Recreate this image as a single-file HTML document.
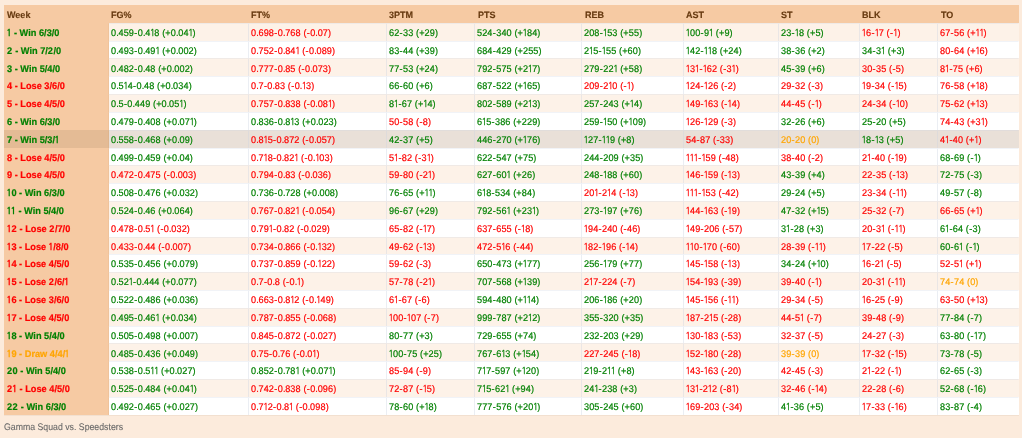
<!DOCTYPE html><html><head><meta charset="utf-8"><title>Gamma Squad vs. Speedsters</title><style>
*{box-sizing:border-box}
html,body{margin:0;padding:0}
body{width:1022px;height:438px;overflow:hidden;background:#fcebdc;font-family:"Liberation Sans",Arial,sans-serif;text-rendering:geometricPrecision;font-size:9.6px;position:relative}
table{will-change:transform;position:absolute;left:4px;top:5px;width:1015px;border-collapse:separate;border-spacing:0;table-layout:fixed}
th,td{height:17.818px;line-height:16.1px;text-align:left;white-space:nowrap;overflow:hidden;vertical-align:top}
th{padding:1.7px 0 0 2.5px;background:#f6caa3;color:#673a10;font-weight:bold;font-size:9.3px}
td{padding:0.7px 0 0 2.2px;border-top:1px solid rgba(205,212,225,0.28);border-right:1px solid rgba(205,212,225,0.38)}
td:last-child{border-right-color:transparent}
th>span,td>span{display:inline-block;position:relative;transform-origin:0 50%}
th>span{transform:scaleX(0.97);-webkit-text-stroke:0.15px currentColor}
td>span{top:1.4px;transform:scaleX(0.95);letter-spacing:0.12px;-webkit-text-stroke:0.2px currentColor}
td.w{padding-left:3px;font-weight:bold;font-size:9.6px;border-top-color:transparent;border-right:1px solid rgba(160,110,60,0.07)}
td.w>span{transform:scaleX(0.96);letter-spacing:0}
.n{margin-left:-0.7px;letter-spacing:-0.95px;font-family:NanumGothic,"Liberation Sans",sans-serif}
.w .n{margin-left:-0.9px;letter-spacing:-0.3px}
.w .t{letter-spacing:0.5px}
.d{letter-spacing:-0.25px}
.h{letter-spacing:0.37px;padding-left:0.25px}
tbody tr:nth-child(odd) td{background-color:#fdf2e8}
tbody tr:nth-child(even) td{background-color:#fff}
tbody tr td.w{background-color:#f6caa3}
tbody tr.hl td{background-color:#e9e0d8}
tbody tr.hl td.w{background-color:#e4bb95}
.g{color:#008000}.r{color:#ff0000}.o{color:#ffa500}
.bl{position:absolute;left:4px;top:414.8px;width:1015px;height:1px;background:rgba(160,130,110,0.1)}
.foot{will-change:transform;position:absolute;left:4px;top:421.8px;color:#686868;font-size:9.5px;line-height:12px;white-space:nowrap}
.foot>span{-webkit-text-stroke:0.1px currentColor;display:inline-block;transform-origin:0 50%;transform:scaleX(0.92)}
</style></head><body>
<table><colgroup><col style="width:104.6px"><col style="width:140.2px"><col style="width:138px"><col style="width:88.3px"><col style="width:107.1px"><col style="width:101.8px"><col style="width:95px"><col style="width:80.9px"><col style="width:78.2px"><col style="width:80.9px"></colgroup>
<thead><tr><th><span>Week</span></th><th><span>FG%</span></th><th><span>FT%</span></th><th><span>3PTM</span></th><th><span>PTS</span></th><th><span>REB</span></th><th><span>AST</span></th><th><span>ST</span></th><th><span>BLK</span></th><th><span>TO</span></th></tr></thead><tbody>
<tr><td class="w g"><span><span class="n">1</span> - Win 6/3/0</span></td><td class="g"><span>0<span class="d">.</span>459<span class="h">-</span>0<span class="d">.</span>4<span class="n">1</span>8 (+0<span class="d">.</span>04<span class="n">1</span>)</span></td><td class="r"><span>0<span class="d">.</span>698<span class="h">-</span>0<span class="d">.</span>768 (<span class="h">-</span>0<span class="d">.</span>07)</span></td><td class="g"><span>62<span class="h">-</span>33 (+29)</span></td><td class="g"><span>524<span class="h">-</span>340 (+<span class="n">1</span>84)</span></td><td class="g"><span>208<span class="h">-</span><span class="n">1</span>53 (+55)</span></td><td class="g"><span><span class="n">1</span>00<span class="h">-</span>9<span class="n">1</span> (+9)</span></td><td class="g"><span>23<span class="h">-</span><span class="n">1</span>8 (+5)</span></td><td class="r"><span><span class="n">1</span>6<span class="h">-</span><span class="n">1</span>7 (<span class="h">-</span><span class="n">1</span>)</span></td><td class="r"><span>67<span class="h">-</span>56 (+<span class="n">1</span><span class="n">1</span>)</span></td></tr>
<tr><td class="w g"><span><span class="t">2</span> - Win 7/<span class="t">2</span>/0</span></td><td class="g"><span>0<span class="d">.</span>493<span class="h">-</span>0<span class="d">.</span>49<span class="n">1</span> (+0<span class="d">.</span>002)</span></td><td class="r"><span>0<span class="d">.</span>752<span class="h">-</span>0<span class="d">.</span>84<span class="n">1</span> (<span class="h">-</span>0<span class="d">.</span>089)</span></td><td class="g"><span>83<span class="h">-</span>44 (+39)</span></td><td class="g"><span>684<span class="h">-</span>429 (+255)</span></td><td class="g"><span>2<span class="n">1</span>5<span class="h">-</span><span class="n">1</span>55 (+60)</span></td><td class="g"><span><span class="n">1</span>42<span class="h">-</span><span class="n">1</span><span class="n">1</span>8 (+24)</span></td><td class="g"><span>38<span class="h">-</span>36 (+2)</span></td><td class="g"><span>34<span class="h">-</span>3<span class="n">1</span> (+3)</span></td><td class="r"><span>80<span class="h">-</span>64 (+<span class="n">1</span>6)</span></td></tr>
<tr><td class="w g"><span>3 - Win 5/4/0</span></td><td class="g"><span>0<span class="d">.</span>482<span class="h">-</span>0<span class="d">.</span>48 (+0<span class="d">.</span>002)</span></td><td class="r"><span>0<span class="d">.</span>777<span class="h">-</span>0<span class="d">.</span>85 (<span class="h">-</span>0<span class="d">.</span>073)</span></td><td class="g"><span>77<span class="h">-</span>53 (+24)</span></td><td class="g"><span>792<span class="h">-</span>575 (+2<span class="n">1</span>7)</span></td><td class="g"><span>279<span class="h">-</span>22<span class="n">1</span> (+58)</span></td><td class="r"><span><span class="n">1</span>3<span class="n">1</span><span class="h">-</span><span class="n">1</span>62 (<span class="h">-</span>3<span class="n">1</span>)</span></td><td class="g"><span>45<span class="h">-</span>39 (+6)</span></td><td class="r"><span>30<span class="h">-</span>35 (<span class="h">-</span>5)</span></td><td class="r"><span>8<span class="n">1</span><span class="h">-</span>75 (+6)</span></td></tr>
<tr><td class="w r"><span>4 - Lose 3/6/0</span></td><td class="g"><span>0<span class="d">.</span>5<span class="n">1</span>4<span class="h">-</span>0<span class="d">.</span>48 (+0<span class="d">.</span>034)</span></td><td class="r"><span>0<span class="d">.</span>7<span class="h">-</span>0<span class="d">.</span>83 (<span class="h">-</span>0<span class="d">.</span><span class="n">1</span>3)</span></td><td class="g"><span>66<span class="h">-</span>60 (+6)</span></td><td class="g"><span>687<span class="h">-</span>522 (+<span class="n">1</span>65)</span></td><td class="r"><span>209<span class="h">-</span>2<span class="n">1</span>0 (<span class="h">-</span><span class="n">1</span>)</span></td><td class="r"><span><span class="n">1</span>24<span class="h">-</span><span class="n">1</span>26 (<span class="h">-</span>2)</span></td><td class="r"><span>29<span class="h">-</span>32 (<span class="h">-</span>3)</span></td><td class="r"><span><span class="n">1</span>9<span class="h">-</span>34 (<span class="h">-</span><span class="n">1</span>5)</span></td><td class="r"><span>76<span class="h">-</span>58 (+<span class="n">1</span>8)</span></td></tr>
<tr><td class="w r"><span>5 - Lose 4/5/0</span></td><td class="g"><span>0<span class="d">.</span>5<span class="h">-</span>0<span class="d">.</span>449 (+0<span class="d">.</span>05<span class="n">1</span>)</span></td><td class="r"><span>0<span class="d">.</span>757<span class="h">-</span>0<span class="d">.</span>838 (<span class="h">-</span>0<span class="d">.</span>08<span class="n">1</span>)</span></td><td class="g"><span>8<span class="n">1</span><span class="h">-</span>67 (+<span class="n">1</span>4)</span></td><td class="g"><span>802<span class="h">-</span>589 (+2<span class="n">1</span>3)</span></td><td class="g"><span>257<span class="h">-</span>243 (+<span class="n">1</span>4)</span></td><td class="r"><span><span class="n">1</span>49<span class="h">-</span><span class="n">1</span>63 (<span class="h">-</span><span class="n">1</span>4)</span></td><td class="r"><span>44<span class="h">-</span>45 (<span class="h">-</span><span class="n">1</span>)</span></td><td class="r"><span>24<span class="h">-</span>34 (<span class="h">-</span><span class="n">1</span>0)</span></td><td class="r"><span>75<span class="h">-</span>62 (+<span class="n">1</span>3)</span></td></tr>
<tr><td class="w g"><span>6 - Win 6/3/0</span></td><td class="g"><span>0<span class="d">.</span>479<span class="h">-</span>0<span class="d">.</span>408 (+0<span class="d">.</span>07<span class="n">1</span>)</span></td><td class="g"><span>0<span class="d">.</span>836<span class="h">-</span>0<span class="d">.</span>8<span class="n">1</span>3 (+0<span class="d">.</span>023)</span></td><td class="r"><span>50<span class="h">-</span>58 (<span class="h">-</span>8)</span></td><td class="g"><span>6<span class="n">1</span>5<span class="h">-</span>386 (+229)</span></td><td class="g"><span>259<span class="h">-</span><span class="n">1</span>50 (+<span class="n">1</span>09)</span></td><td class="r"><span><span class="n">1</span>26<span class="h">-</span><span class="n">1</span>29 (<span class="h">-</span>3)</span></td><td class="g"><span>32<span class="h">-</span>26 (+6)</span></td><td class="g"><span>25<span class="h">-</span>20 (+5)</span></td><td class="r"><span>74<span class="h">-</span>43 (+3<span class="n">1</span>)</span></td></tr>
<tr class="hl"><td class="w g"><span>7 - Win 5/3/<span class="n">1</span></span></td><td class="g"><span>0<span class="d">.</span>558<span class="h">-</span>0<span class="d">.</span>468 (+0<span class="d">.</span>09)</span></td><td class="r"><span>0<span class="d">.</span>8<span class="n">1</span>5<span class="h">-</span>0<span class="d">.</span>872 (<span class="h">-</span>0<span class="d">.</span>057)</span></td><td class="g"><span>42<span class="h">-</span>37 (+5)</span></td><td class="g"><span>446<span class="h">-</span>270 (+<span class="n">1</span>76)</span></td><td class="g"><span><span class="n">1</span>27<span class="h">-</span><span class="n">1</span><span class="n">1</span>9 (+8)</span></td><td class="r"><span>54<span class="h">-</span>87 (<span class="h">-</span>33)</span></td><td class="o"><span>20<span class="h">-</span>20 (0)</span></td><td class="g"><span><span class="n">1</span>8<span class="h">-</span><span class="n">1</span>3 (+5)</span></td><td class="r"><span>4<span class="n">1</span><span class="h">-</span>40 (+<span class="n">1</span>)</span></td></tr>
<tr><td class="w r"><span>8 - Lose 4/5/0</span></td><td class="g"><span>0<span class="d">.</span>499<span class="h">-</span>0<span class="d">.</span>459 (+0<span class="d">.</span>04)</span></td><td class="r"><span>0<span class="d">.</span>7<span class="n">1</span>8<span class="h">-</span>0<span class="d">.</span>82<span class="n">1</span> (<span class="h">-</span>0<span class="d">.</span><span class="n">1</span>03)</span></td><td class="r"><span>5<span class="n">1</span><span class="h">-</span>82 (<span class="h">-</span>3<span class="n">1</span>)</span></td><td class="g"><span>622<span class="h">-</span>547 (+75)</span></td><td class="g"><span>244<span class="h">-</span>209 (+35)</span></td><td class="r"><span><span class="n">1</span><span class="n">1</span><span class="n">1</span><span class="h">-</span><span class="n">1</span>59 (<span class="h">-</span>48)</span></td><td class="r"><span>38<span class="h">-</span>40 (<span class="h">-</span>2)</span></td><td class="r"><span>2<span class="n">1</span><span class="h">-</span>40 (<span class="h">-</span><span class="n">1</span>9)</span></td><td class="g"><span>68<span class="h">-</span>69 (<span class="h">-</span><span class="n">1</span>)</span></td></tr>
<tr><td class="w r"><span>9 - Lose 4/5/0</span></td><td class="r"><span>0<span class="d">.</span>472<span class="h">-</span>0<span class="d">.</span>475 (<span class="h">-</span>0<span class="d">.</span>003)</span></td><td class="r"><span>0<span class="d">.</span>794<span class="h">-</span>0<span class="d">.</span>83 (<span class="h">-</span>0<span class="d">.</span>036)</span></td><td class="r"><span>59<span class="h">-</span>80 (<span class="h">-</span>2<span class="n">1</span>)</span></td><td class="g"><span>627<span class="h">-</span>60<span class="n">1</span> (+26)</span></td><td class="g"><span>248<span class="h">-</span><span class="n">1</span>88 (+60)</span></td><td class="r"><span><span class="n">1</span>46<span class="h">-</span><span class="n">1</span>59 (<span class="h">-</span><span class="n">1</span>3)</span></td><td class="g"><span>43<span class="h">-</span>39 (+4)</span></td><td class="r"><span>22<span class="h">-</span>35 (<span class="h">-</span><span class="n">1</span>3)</span></td><td class="g"><span>72<span class="h">-</span>75 (<span class="h">-</span>3)</span></td></tr>
<tr><td class="w g"><span><span class="n">1</span>0 - Win 6/3/0</span></td><td class="g"><span>0<span class="d">.</span>508<span class="h">-</span>0<span class="d">.</span>476 (+0<span class="d">.</span>032)</span></td><td class="g"><span>0<span class="d">.</span>736<span class="h">-</span>0<span class="d">.</span>728 (+0<span class="d">.</span>008)</span></td><td class="g"><span>76<span class="h">-</span>65 (+<span class="n">1</span><span class="n">1</span>)</span></td><td class="g"><span>6<span class="n">1</span>8<span class="h">-</span>534 (+84)</span></td><td class="r"><span>20<span class="n">1</span><span class="h">-</span>2<span class="n">1</span>4 (<span class="h">-</span><span class="n">1</span>3)</span></td><td class="r"><span><span class="n">1</span><span class="n">1</span><span class="n">1</span><span class="h">-</span><span class="n">1</span>53 (<span class="h">-</span>42)</span></td><td class="g"><span>29<span class="h">-</span>24 (+5)</span></td><td class="r"><span>23<span class="h">-</span>34 (<span class="h">-</span><span class="n">1</span><span class="n">1</span>)</span></td><td class="g"><span>49<span class="h">-</span>57 (<span class="h">-</span>8)</span></td></tr>
<tr><td class="w g"><span><span class="n">1</span><span class="n">1</span> - Win 5/4/0</span></td><td class="g"><span>0<span class="d">.</span>524<span class="h">-</span>0<span class="d">.</span>46 (+0<span class="d">.</span>064)</span></td><td class="r"><span>0<span class="d">.</span>767<span class="h">-</span>0<span class="d">.</span>82<span class="n">1</span> (<span class="h">-</span>0<span class="d">.</span>054)</span></td><td class="g"><span>96<span class="h">-</span>67 (+29)</span></td><td class="g"><span>792<span class="h">-</span>56<span class="n">1</span> (+23<span class="n">1</span>)</span></td><td class="g"><span>273<span class="h">-</span><span class="n">1</span>97 (+76)</span></td><td class="r"><span><span class="n">1</span>44<span class="h">-</span><span class="n">1</span>63 (<span class="h">-</span><span class="n">1</span>9)</span></td><td class="g"><span>47<span class="h">-</span>32 (+<span class="n">1</span>5)</span></td><td class="r"><span>25<span class="h">-</span>32 (<span class="h">-</span>7)</span></td><td class="r"><span>66<span class="h">-</span>65 (+<span class="n">1</span>)</span></td></tr>
<tr><td class="w r"><span><span class="n">1</span><span class="t">2</span> - Lose <span class="t">2</span>/7/0</span></td><td class="r"><span>0<span class="d">.</span>478<span class="h">-</span>0<span class="d">.</span>5<span class="n">1</span> (<span class="h">-</span>0<span class="d">.</span>032)</span></td><td class="r"><span>0<span class="d">.</span>79<span class="n">1</span><span class="h">-</span>0<span class="d">.</span>82 (<span class="h">-</span>0<span class="d">.</span>029)</span></td><td class="r"><span>65<span class="h">-</span>82 (<span class="h">-</span><span class="n">1</span>7)</span></td><td class="r"><span>637<span class="h">-</span>655 (<span class="h">-</span><span class="n">1</span>8)</span></td><td class="r"><span><span class="n">1</span>94<span class="h">-</span>240 (<span class="h">-</span>46)</span></td><td class="r"><span><span class="n">1</span>49<span class="h">-</span>206 (<span class="h">-</span>57)</span></td><td class="g"><span>3<span class="n">1</span><span class="h">-</span>28 (+3)</span></td><td class="r"><span>20<span class="h">-</span>3<span class="n">1</span> (<span class="h">-</span><span class="n">1</span><span class="n">1</span>)</span></td><td class="g"><span>6<span class="n">1</span><span class="h">-</span>64 (<span class="h">-</span>3)</span></td></tr>
<tr><td class="w r"><span><span class="n">1</span>3 - Lose <span class="n">1</span>/8/0</span></td><td class="r"><span>0<span class="d">.</span>433<span class="h">-</span>0<span class="d">.</span>44 (<span class="h">-</span>0<span class="d">.</span>007)</span></td><td class="r"><span>0<span class="d">.</span>734<span class="h">-</span>0<span class="d">.</span>866 (<span class="h">-</span>0<span class="d">.</span><span class="n">1</span>32)</span></td><td class="r"><span>49<span class="h">-</span>62 (<span class="h">-</span><span class="n">1</span>3)</span></td><td class="r"><span>472<span class="h">-</span>5<span class="n">1</span>6 (<span class="h">-</span>44)</span></td><td class="r"><span><span class="n">1</span>82<span class="h">-</span><span class="n">1</span>96 (<span class="h">-</span><span class="n">1</span>4)</span></td><td class="r"><span><span class="n">1</span><span class="n">1</span>0<span class="h">-</span><span class="n">1</span>70 (<span class="h">-</span>60)</span></td><td class="r"><span>28<span class="h">-</span>39 (<span class="h">-</span><span class="n">1</span><span class="n">1</span>)</span></td><td class="r"><span><span class="n">1</span>7<span class="h">-</span>22 (<span class="h">-</span>5)</span></td><td class="g"><span>60<span class="h">-</span>6<span class="n">1</span> (<span class="h">-</span><span class="n">1</span>)</span></td></tr>
<tr><td class="w r"><span><span class="n">1</span>4 - Lose 4/5/0</span></td><td class="g"><span>0<span class="d">.</span>535<span class="h">-</span>0<span class="d">.</span>456 (+0<span class="d">.</span>079)</span></td><td class="r"><span>0<span class="d">.</span>737<span class="h">-</span>0<span class="d">.</span>859 (<span class="h">-</span>0<span class="d">.</span><span class="n">1</span>22)</span></td><td class="r"><span>59<span class="h">-</span>62 (<span class="h">-</span>3)</span></td><td class="g"><span>650<span class="h">-</span>473 (+<span class="n">1</span>77)</span></td><td class="g"><span>256<span class="h">-</span><span class="n">1</span>79 (+77)</span></td><td class="r"><span><span class="n">1</span>45<span class="h">-</span><span class="n">1</span>58 (<span class="h">-</span><span class="n">1</span>3)</span></td><td class="g"><span>34<span class="h">-</span>24 (+<span class="n">1</span>0)</span></td><td class="r"><span><span class="n">1</span>6<span class="h">-</span>2<span class="n">1</span> (<span class="h">-</span>5)</span></td><td class="r"><span>52<span class="h">-</span>5<span class="n">1</span> (+<span class="n">1</span>)</span></td></tr>
<tr><td class="w r"><span><span class="n">1</span>5 - Lose <span class="t">2</span>/6/<span class="n">1</span></span></td><td class="g"><span>0<span class="d">.</span>52<span class="n">1</span><span class="h">-</span>0<span class="d">.</span>444 (+0<span class="d">.</span>077)</span></td><td class="r"><span>0<span class="d">.</span>7<span class="h">-</span>0<span class="d">.</span>8 (<span class="h">-</span>0<span class="d">.</span><span class="n">1</span>)</span></td><td class="r"><span>57<span class="h">-</span>78 (<span class="h">-</span>2<span class="n">1</span>)</span></td><td class="g"><span>707<span class="h">-</span>568 (+<span class="n">1</span>39)</span></td><td class="r"><span>2<span class="n">1</span>7<span class="h">-</span>224 (<span class="h">-</span>7)</span></td><td class="r"><span><span class="n">1</span>54<span class="h">-</span><span class="n">1</span>93 (<span class="h">-</span>39)</span></td><td class="r"><span>39<span class="h">-</span>40 (<span class="h">-</span><span class="n">1</span>)</span></td><td class="r"><span>20<span class="h">-</span>3<span class="n">1</span> (<span class="h">-</span><span class="n">1</span><span class="n">1</span>)</span></td><td class="o"><span>74<span class="h">-</span>74 (0)</span></td></tr>
<tr><td class="w r"><span><span class="n">1</span>6 - Lose 3/6/0</span></td><td class="g"><span>0<span class="d">.</span>522<span class="h">-</span>0<span class="d">.</span>486 (+0<span class="d">.</span>036)</span></td><td class="r"><span>0<span class="d">.</span>663<span class="h">-</span>0<span class="d">.</span>8<span class="n">1</span>2 (<span class="h">-</span>0<span class="d">.</span><span class="n">1</span>49)</span></td><td class="r"><span>6<span class="n">1</span><span class="h">-</span>67 (<span class="h">-</span>6)</span></td><td class="g"><span>594<span class="h">-</span>480 (+<span class="n">1</span><span class="n">1</span>4)</span></td><td class="g"><span>206<span class="h">-</span><span class="n">1</span>86 (+20)</span></td><td class="r"><span><span class="n">1</span>45<span class="h">-</span><span class="n">1</span>56 (<span class="h">-</span><span class="n">1</span><span class="n">1</span>)</span></td><td class="r"><span>29<span class="h">-</span>34 (<span class="h">-</span>5)</span></td><td class="r"><span><span class="n">1</span>6<span class="h">-</span>25 (<span class="h">-</span>9)</span></td><td class="r"><span>63<span class="h">-</span>50 (+<span class="n">1</span>3)</span></td></tr>
<tr><td class="w r"><span><span class="n">1</span>7 - Lose 4/5/0</span></td><td class="g"><span>0<span class="d">.</span>495<span class="h">-</span>0<span class="d">.</span>46<span class="n">1</span> (+0<span class="d">.</span>034)</span></td><td class="r"><span>0<span class="d">.</span>787<span class="h">-</span>0<span class="d">.</span>855 (<span class="h">-</span>0<span class="d">.</span>068)</span></td><td class="r"><span><span class="n">1</span>00<span class="h">-</span><span class="n">1</span>07 (<span class="h">-</span>7)</span></td><td class="g"><span>999<span class="h">-</span>787 (+2<span class="n">1</span>2)</span></td><td class="g"><span>355<span class="h">-</span>320 (+35)</span></td><td class="r"><span><span class="n">1</span>87<span class="h">-</span>2<span class="n">1</span>5 (<span class="h">-</span>28)</span></td><td class="r"><span>44<span class="h">-</span>5<span class="n">1</span> (<span class="h">-</span>7)</span></td><td class="r"><span>39<span class="h">-</span>48 (<span class="h">-</span>9)</span></td><td class="g"><span>77<span class="h">-</span>84 (<span class="h">-</span>7)</span></td></tr>
<tr><td class="w g"><span><span class="n">1</span>8 - Win 5/4/0</span></td><td class="g"><span>0<span class="d">.</span>505<span class="h">-</span>0<span class="d">.</span>498 (+0<span class="d">.</span>007)</span></td><td class="r"><span>0<span class="d">.</span>845<span class="h">-</span>0<span class="d">.</span>872 (<span class="h">-</span>0<span class="d">.</span>027)</span></td><td class="g"><span>80<span class="h">-</span>77 (+3)</span></td><td class="g"><span>729<span class="h">-</span>655 (+74)</span></td><td class="g"><span>232<span class="h">-</span>203 (+29)</span></td><td class="r"><span><span class="n">1</span>30<span class="h">-</span><span class="n">1</span>83 (<span class="h">-</span>53)</span></td><td class="r"><span>32<span class="h">-</span>37 (<span class="h">-</span>5)</span></td><td class="r"><span>24<span class="h">-</span>27 (<span class="h">-</span>3)</span></td><td class="g"><span>63<span class="h">-</span>80 (<span class="h">-</span><span class="n">1</span>7)</span></td></tr>
<tr><td class="w o"><span><span class="n">1</span>9 - Draw 4/4/<span class="n">1</span></span></td><td class="g"><span>0<span class="d">.</span>485<span class="h">-</span>0<span class="d">.</span>436 (+0<span class="d">.</span>049)</span></td><td class="r"><span>0<span class="d">.</span>75<span class="h">-</span>0<span class="d">.</span>76 (<span class="h">-</span>0<span class="d">.</span>0<span class="n">1</span>)</span></td><td class="g"><span><span class="n">1</span>00<span class="h">-</span>75 (+25)</span></td><td class="g"><span>767<span class="h">-</span>6<span class="n">1</span>3 (+<span class="n">1</span>54)</span></td><td class="r"><span>227<span class="h">-</span>245 (<span class="h">-</span><span class="n">1</span>8)</span></td><td class="r"><span><span class="n">1</span>52<span class="h">-</span><span class="n">1</span>80 (<span class="h">-</span>28)</span></td><td class="o"><span>39<span class="h">-</span>39 (0)</span></td><td class="r"><span><span class="n">1</span>7<span class="h">-</span>32 (<span class="h">-</span><span class="n">1</span>5)</span></td><td class="g"><span>73<span class="h">-</span>78 (<span class="h">-</span>5)</span></td></tr>
<tr><td class="w g"><span><span class="t">2</span>0 - Win 5/4/0</span></td><td class="g"><span>0<span class="d">.</span>538<span class="h">-</span>0<span class="d">.</span>5<span class="n">1</span><span class="n">1</span> (+0<span class="d">.</span>027)</span></td><td class="g"><span>0<span class="d">.</span>852<span class="h">-</span>0<span class="d">.</span>78<span class="n">1</span> (+0<span class="d">.</span>07<span class="n">1</span>)</span></td><td class="r"><span>85<span class="h">-</span>94 (<span class="h">-</span>9)</span></td><td class="g"><span>7<span class="n">1</span>7<span class="h">-</span>597 (+<span class="n">1</span>20)</span></td><td class="g"><span>2<span class="n">1</span>9<span class="h">-</span>2<span class="n">1</span><span class="n">1</span> (+8)</span></td><td class="r"><span><span class="n">1</span>43<span class="h">-</span><span class="n">1</span>63 (<span class="h">-</span>20)</span></td><td class="r"><span>42<span class="h">-</span>45 (<span class="h">-</span>3)</span></td><td class="r"><span>2<span class="n">1</span><span class="h">-</span>22 (<span class="h">-</span><span class="n">1</span>)</span></td><td class="g"><span>62<span class="h">-</span>65 (<span class="h">-</span>3)</span></td></tr>
<tr><td class="w r"><span><span class="t">2</span><span class="n">1</span> - Lose 4/5/0</span></td><td class="g"><span>0<span class="d">.</span>525<span class="h">-</span>0<span class="d">.</span>484 (+0<span class="d">.</span>04<span class="n">1</span>)</span></td><td class="r"><span>0<span class="d">.</span>742<span class="h">-</span>0<span class="d">.</span>838 (<span class="h">-</span>0<span class="d">.</span>096)</span></td><td class="r"><span>72<span class="h">-</span>87 (<span class="h">-</span><span class="n">1</span>5)</span></td><td class="g"><span>7<span class="n">1</span>5<span class="h">-</span>62<span class="n">1</span> (+94)</span></td><td class="g"><span>24<span class="n">1</span><span class="h">-</span>238 (+3)</span></td><td class="r"><span><span class="n">1</span>3<span class="n">1</span><span class="h">-</span>2<span class="n">1</span>2 (<span class="h">-</span>8<span class="n">1</span>)</span></td><td class="r"><span>32<span class="h">-</span>46 (<span class="h">-</span><span class="n">1</span>4)</span></td><td class="r"><span>22<span class="h">-</span>28 (<span class="h">-</span>6)</span></td><td class="g"><span>52<span class="h">-</span>68 (<span class="h">-</span><span class="n">1</span>6)</span></td></tr>
<tr><td class="w g"><span><span class="t">2</span><span class="t">2</span> - Win 6/3/0</span></td><td class="g"><span>0<span class="d">.</span>492<span class="h">-</span>0<span class="d">.</span>465 (+0<span class="d">.</span>027)</span></td><td class="r"><span>0<span class="d">.</span>7<span class="n">1</span>2<span class="h">-</span>0<span class="d">.</span>8<span class="n">1</span> (<span class="h">-</span>0<span class="d">.</span>098)</span></td><td class="g"><span>78<span class="h">-</span>60 (+<span class="n">1</span>8)</span></td><td class="g"><span>777<span class="h">-</span>576 (+20<span class="n">1</span>)</span></td><td class="g"><span>305<span class="h">-</span>245 (+60)</span></td><td class="r"><span><span class="n">1</span>69<span class="h">-</span>203 (<span class="h">-</span>34)</span></td><td class="g"><span>4<span class="n">1</span><span class="h">-</span>36 (+5)</span></td><td class="r"><span><span class="n">1</span>7<span class="h">-</span>33 (<span class="h">-</span><span class="n">1</span>6)</span></td><td class="g"><span>83<span class="h">-</span>87 (<span class="h">-</span>4)</span></td></tr>
</tbody></table>
<div class="bl"></div>
<div class="foot"><span>Gamma Squad vs. Speedsters</span></div>
</body></html>
